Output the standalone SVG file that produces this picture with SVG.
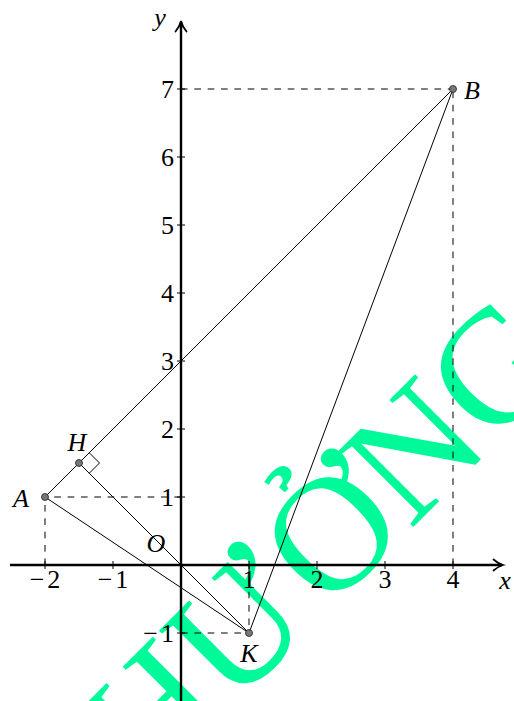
<svg xmlns="http://www.w3.org/2000/svg" width="514" height="701" viewBox="0 0 514 701">
<style>
.wm{font-family:"Liberation Serif","DejaVu Serif",serif;font-size:163px;fill:#00FA9A}
.ax{stroke:#000;stroke-width:2.4;fill:none}
.tk{stroke:#000;stroke-width:1;fill:none}
.ln{stroke:#000;stroke-width:1;fill:none}
.ds{stroke:#000;stroke-width:1;fill:none;stroke-dasharray:6.67 6.67}
.num{font-family:"Liberation Serif","DejaVu Serif",serif;font-size:26px;fill:#000}
.lb{font-family:"Liberation Serif","DejaVu Serif",serif;font-size:26px;font-style:italic;fill:#000}
.pt{fill:#777;stroke:#222;stroke-width:0.8}
.ar{stroke:#000;stroke-width:1.8;fill:none;stroke-linecap:round}
</style>
<rect width="514" height="701" fill="#fff"/>
<g id="watermark">
<text class="wm" transform="rotate(-45)" x="-455 -337 -202 -85 32" y="665">HƯỞNG</text>
</g>
<g id="axes">
<line class="ax" x1="10" y1="565" x2="502" y2="565"/>
<path class="ar" d="M493.5,559.5 Q498,563.5 503,565 Q498,566.5 493.5,570.5"/>
<line class="ax" x1="181" y1="705" x2="181" y2="22"/>
<path class="ar" d="M175.5,31.5 Q179.5,27 181,21 Q182.5,27 186.5,31.5"/>
<g class="tk">
<line x1="45" y1="561" x2="45" y2="569"/>
<line x1="113" y1="561" x2="113" y2="569"/>
<line x1="249" y1="561" x2="249" y2="569"/>
<line x1="317" y1="561" x2="317" y2="569"/>
<line x1="385" y1="561" x2="385" y2="569"/>
<line x1="453" y1="561" x2="453" y2="569"/>
<line x1="177" y1="633" x2="185" y2="633"/>
<line x1="177" y1="497" x2="185" y2="497"/>
<line x1="177" y1="429" x2="185" y2="429"/>
<line x1="177" y1="361" x2="185" y2="361"/>
<line x1="177" y1="293" x2="185" y2="293"/>
<line x1="177" y1="225" x2="185" y2="225"/>
<line x1="177" y1="157" x2="185" y2="157"/>
<line x1="177" y1="89" x2="185" y2="89"/>
</g>
<g class="num" text-anchor="middle">
<text x="45" y="588">−<tspan dx="3">2</tspan></text>
<text x="113" y="588">−<tspan dx="3">1</tspan></text>
<text x="249" y="588">1</text>
<text x="317" y="588">2</text>
<text x="385" y="588">3</text>
<text x="453" y="588">4</text>
</g>
<g class="num" text-anchor="end">
<text x="174" y="642">−<tspan dx="3">1</tspan></text>
<text x="174" y="506">1</text>
<text x="174" y="438">2</text>
<text x="174" y="370">3</text>
<text x="174" y="302">4</text>
<text x="174" y="234">5</text>
<text x="174" y="166">6</text>
<text x="174" y="98">7</text>
</g>
<text class="lb" x="505" y="589" text-anchor="middle">x</text>
<text class="lb" x="160" y="26" text-anchor="middle">y</text>
<text class="lb" x="156" y="552" text-anchor="middle">O</text>
</g>
<g id="connectors">
<path class="ds" d="M181,497 L45,497"/>
<path class="ds" d="M45,565 L45,497"/>
<path class="ds" d="M181,89 L453,89"/>
<path class="ds" d="M453,565 L453,89"/>
<path class="ds" d="M181,633 L249,633"/>
<path class="ds" d="M249,565 L249,633"/>
<line class="ln" x1="45" y1="497" x2="453" y2="89"/>
<line class="ln" x1="45" y1="497" x2="249" y2="633"/>
<line class="ln" x1="79" y1="463" x2="249" y2="633"/>
<line class="ln" x1="453" y1="89" x2="249" y2="633"/>
<path class="ln" d="M89.25,452.75 L99.5,463 L89.25,473.25"/>
</g>
<g id="node-A">
<circle class="pt" cx="45" cy="497" r="3.5"/>
<text class="lb" x="21" y="507" text-anchor="middle">A</text>
</g>
<g id="node-H">
<circle class="pt" cx="79" cy="463" r="3.5"/>
<text class="lb" x="77" y="451" text-anchor="middle">H</text>
</g>
<g id="node-B">
<circle class="pt" cx="453" cy="89" r="3.5"/>
<text class="lb" x="464" y="99">B</text>
</g>
<g id="node-K">
<circle class="pt" cx="249" cy="633" r="3.5"/>
<text class="lb" x="249" y="662" text-anchor="middle">K</text>
</g>
</svg>
